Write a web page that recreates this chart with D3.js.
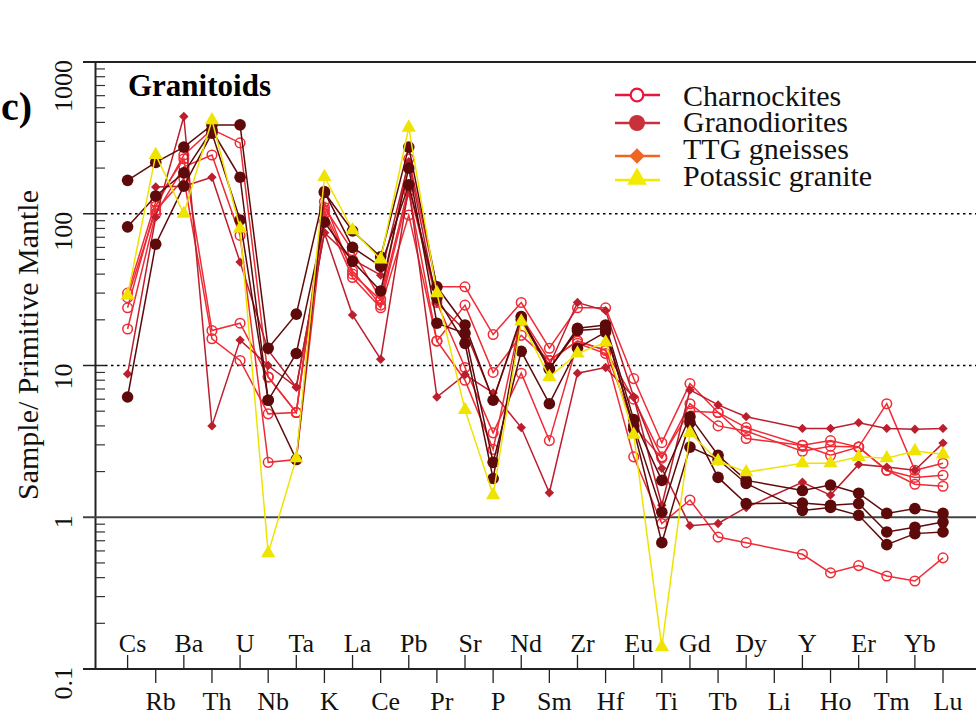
<!DOCTYPE html>
<html><head><meta charset="utf-8">
<script src="https://cdn.jsdelivr.net/npm/d3@7"></script>
<style>body{margin:0;background:#fff}svg{display:block}text{font-family:"Liberation Serif","Times New Roman",serif}</style>
</head><body>
<svg id="c" width="976" height="717"></svg>
<script>
const elements = ["Cs","Rb","Ba","Th","U","Nb","Ta","K","La","Ce","Pb","Pr","Sr","P","Nd","Sm","Zr","Hf","Eu","Ti","Gd","Tb","Dy","Li","Y","Ho","Er","Tm","Yb","Lu"];

const charn1 = [24,112,244,360,293,8.4,4.9,110,57,27.4,230,33,33,16,26,13,24,24,8.2,3.1,7.6,4.9,3.9,null,2.98,3.2,2.9,2.04,1.83,1.89];
const charn2 = [17.4,100,204,244,72,2.3,2.4,100,38,24,98,14.5,25,9,15.8,10.8,14.5,12.6,4.0,2.45,5.6,4.0,3.7,null,2.72,2.94,2.9,5.6,2.04,2.27];
const charn3 = [30,120,230,17,19,8.4,4.9,120,40,27,150,26,9.7,3.6,8.9,3.2,14,12,2.5,0.91,1.3,0.74,0.68,null,0.57,0.43,0.48,0.41,0.38,0.54];
const charn4 = [28,105,170,15,10.8,4.8,4.9,105,42,25,140,14.5,8,2.8,21,10.8,14.5,12.6,6,2.5,5.0,4.9,3.3,null,2.98,2.56,2.9,2.04,1.65,1.6];

const grano1 = [166,218,275,385,385,13,21.8,138,77,52,275,33,18.5,5.9,21,9.5,17.6,18.5,4.4,1.75,4.6,2.56,1.75,null,1.5,1.63,1.44,1.06,1.14,1.06];
const grano2 = [82,131,186,355,174,5.9,12,88,48.6,31,200,19,16.3,2.3,12.4,5.6,13,16.6,4.0,1.08,4.2,1.83,1.23,null,1.24,1.2,1.23,0.8,0.86,0.93];
const grano3 = [6.2,63,152,340,91,5.9,2.4,140,60,45,155,28,14,1.8,20,9.5,17,17.5,3.8,0.68,2.9,2.4,1.67,null,1.11,1.16,1.03,0.66,0.78,0.8];

const ttg1 = [8.8,95,437,4.0,14.7,10,7.2,75,21.5,11,150,6.2,8.7,6.6,3.9,1.45,8.9,9.7,6.2,2.1,0.88,0.91,1.16,null,1.7,1.4,2.23,2.14,2.04,3.08];
const ttg2 = [null,150,152,174,48,12.6,7.2,75,50,39.4,220,26,17,6,20,10,26,23,6.2,1.2,6.9,5.5,4.6,null,3.85,3.85,4.2,3.85,3.8,3.85];

const potassic = [29,244,100,414,80,0.58,2.45,175,78,50,370,30,5.1,1.4,19.5,8.4,12,14.2,3.5,0.14,3.6,2.35,1.98,null,2.27,2.27,2.5,2.45,2.73,2.6];

const yTicks = [0.1, 1, 10, 100, 1000];
const yTickLabels = ["0.1", "1", "10", "100", "1000"];
const legendNames = ["Charnockites", "Granodiorites", "TTG gneisses", "Potassic granite"];

const svg = d3.select("#c");
const x = d3.scalePoint().domain(elements).range([127.6, 943]);
const y = d3.scaleLog().domain([0.1, 1000]).range([669, 62]);

// axes / frame
const g = svg.append("g");
g.append("line").attr("x1",83).attr("x2",976).attr("y1",y(1000)).attr("y2",y(1000)).attr("stroke","#222").attr("stroke-width",2);
g.append("line").attr("x1",95.5).attr("x2",95.5).attr("y1",y(1000)).attr("y2",y(0.1)).attr("stroke","#222").attr("stroke-width",2);
g.append("line").attr("x1",83).attr("x2",976).attr("y1",y(0.1)).attr("y2",y(0.1)).attr("stroke","#222").attr("stroke-width",2);
// gridlines
[10,100].forEach(v=>{
  g.append("line").attr("x1",105).attr("x2",976).attr("y1",y(v)).attr("y2",y(v))
   .attr("stroke","#000").attr("stroke-width",1.5).attr("stroke-dasharray","2.5,3.5");
  g.append("line").attr("x1",83).attr("x2",105).attr("y1",y(v)).attr("y2",y(v)).attr("stroke","#222").attr("stroke-width",1.5);
});
g.append("line").attr("x1",83).attr("x2",976).attr("y1",y(1)).attr("y2",y(1)).attr("stroke","#444").attr("stroke-width",2);
// minor ticks
[0.1,1,10,100].forEach(d=>{
  for(let k=2;k<=9;k++){
    const v=d*k;
    g.append("line").attr("x1",95.5).attr("x2",105).attr("y1",y(v)).attr("y2",y(v)).attr("stroke","#333").attr("stroke-width",1.2);
  }
});
// y tick labels
yTicks.forEach((v,i)=>{
  g.append("text").attr("transform",`translate(72,${y(v)-2}) rotate(-90)`)
   .attr("text-anchor","end").attr("font-size",26).attr("fill","#111").text(yTickLabels[i]);
});
// y title
g.append("text").attr("transform","translate(38,345) rotate(-90)").attr("text-anchor","middle")
 .attr("font-size",30).attr("fill","#111").text("Sample/ Primitive Mantle");

// x ticks + labels
elements.forEach((e,i)=>{
  const xp = x(e);
  const up = i%2===0;
  g.append("line").attr("x1",xp).attr("x2",xp).attr("y1",669).attr("y2",up?655:683).attr("stroke","#222").attr("stroke-width",1.3);
  g.append("text").attr("x",xp+5).attr("y",up?652:710).attr("text-anchor","middle")
   .attr("font-size",26).attr("fill","#111").text(e);
});

// titles
svg.append("text").attr("x",1).attr("y",120).attr("font-size",40).attr("font-weight","bold").attr("fill","#000").text("c)");
svg.append("text").attr("x",128).attr("y",96).attr("font-size",31).attr("font-weight","bold").attr("fill","#000").text("Granitoids");

// series
const series = [
  {v:charn1, c:"#ef2b35", m:"open"},
  {v:charn2, c:"#ef2b35", m:"open"},
  {v:charn3, c:"#ef2b35", m:"open"},
  {v:charn4, c:"#ef2b35", m:"open"},
  {v:ttg1, c:"#bb1f2e", m:"diamond"},
  {v:ttg2, c:"#bb1f2e", m:"diamond"},
  {v:grano1, c:"#5e0a0a", m:"filled"},
  {v:grano2, c:"#5e0a0a", m:"filled"},
  {v:grano3, c:"#5e0a0a", m:"filled"},
  {v:potassic, c:"#eee400", m:"tri"}
];
const line = d3.line().x(d=>x(d.e)).y(d=>y(d.v));
function drawMarker(sel, m, c){
  if(m==="open"){
    sel.append("circle").attr("r",4.8).attr("fill","none").attr("stroke",c).attr("stroke-width",1.5);
  } else if(m==="filled"){
    sel.append("circle").attr("r",5.8).attr("fill",c);
  } else if(m==="diamond"){
    sel.append("path").attr("d",d3.symbol(d3.symbolSquare, 44)()).attr("transform","rotate(45)").attr("fill",c);
  } else {
    sel.append("path").attr("d",d3.symbol(d3.symbolTriangle, 88)()).attr("fill",c);
  }
}
series.forEach(s=>{
  const pts = elements.map((e,i)=>({e, v:s.v[i]})).filter(d=>d.v!=null);
  svg.append("path").datum(pts).attr("d",line).attr("fill","none").attr("stroke",s.c).attr("stroke-width",1.5);
  pts.forEach(p=>{
    const gm = svg.append("g").attr("transform",`translate(${x(p.e)},${y(p.v)})`);
    drawMarker(gm, s.m, s.c);
  });
});

// legend
const legendColors = ["#e8163e","#c8303a","#f06522","#f2ea00"];
const legendMarks = ["open","filled","diamond","tri"];
const legendY = [95,123,156,180];
const legendTextY = [106,132,159,186];
legendNames.forEach((n,i)=>{
  const lg = svg.append("g");
  lg.append("line").attr("x1",615).attr("x2",660).attr("y1",legendY[i]).attr("y2",legendY[i]).attr("stroke",legendColors[i]).attr("stroke-width",2.5);
  const gm = lg.append("g").attr("transform",`translate(637,${legendY[i]})`);
  if(legendMarks[i]==="open"){
    gm.append("circle").attr("r",6.3).attr("fill","#fff").attr("stroke",legendColors[i]).attr("stroke-width",2.2);
  } else if(legendMarks[i]==="filled"){
    gm.append("circle").attr("r",8).attr("fill",legendColors[i]);
  } else if(legendMarks[i]==="diamond"){
    gm.append("path").attr("d",d3.symbol(d3.symbolSquare,120)()).attr("transform","rotate(45)").attr("fill",legendColors[i]);
  } else {
    gm.append("path").attr("d",d3.symbol(d3.symbolTriangle,170)()).attr("transform","translate(0,-1)").attr("fill",legendColors[i]);
  }
  lg.append("text").attr("x",683).attr("y",legendTextY[i]).attr("font-size",30).attr("fill","#111").text(n);
});
</script>
</body></html>
